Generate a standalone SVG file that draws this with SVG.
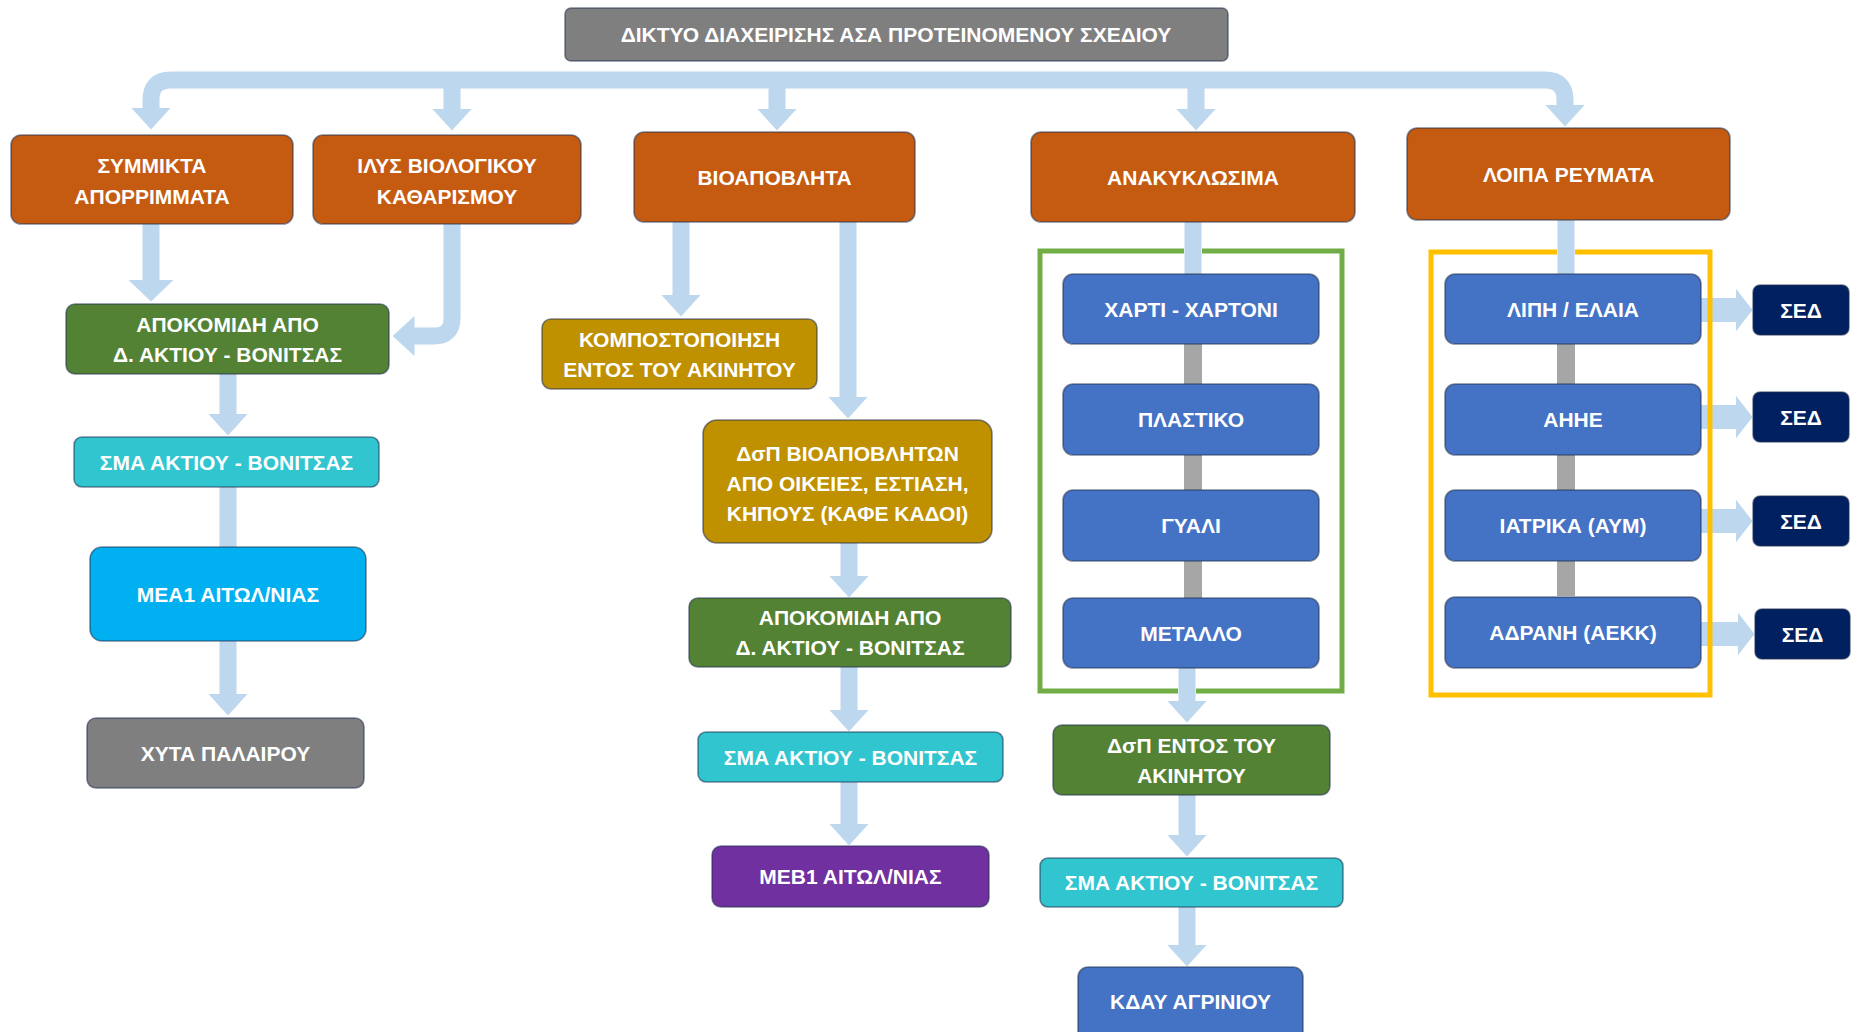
<svg xmlns="http://www.w3.org/2000/svg" width="1852" height="1032" viewBox="0 0 1852 1032">
<style>
.bg{fill:#ffffff}
.n{stroke:#1f2f4f;stroke-opacity:.55;stroke-width:1.6}
.or{fill:#c55a11}
.gr{fill:#548235}
.cy{fill:#31c5cf}
.sk{fill:#00b0f0}
.gy{fill:#7f7f7f}
.gd{fill:#bf9000}
.pu{fill:#7030a0}
.bl{fill:#4472c4}
.nv{fill:#002060}
.t{font-family:"Liberation Sans",Arial,sans-serif;font-weight:bold;font-size:21px;fill:#ffffff;text-anchor:middle}
.tt{font-size:21px}
.c{fill:none;stroke:#bdd7ee;stroke-width:17}
.cs{fill:none;stroke:#bdd7ee;stroke-width:24}
.gb{fill:none;stroke:#a6a6a6;stroke-width:18}
.fr{fill:none;stroke-width:5}
</style>
<defs>
<marker id="ah" markerUnits="userSpaceOnUse" markerWidth="22" markerHeight="40" viewBox="0 0 22 40" refX="0.5" refY="20" orient="auto"><path d="M0,0 L22,20 L0,40 z" fill="#bdd7ee"/></marker>
<marker id="ahw" markerUnits="userSpaceOnUse" markerWidth="22" markerHeight="46" viewBox="0 0 22 46" refX="0.5" refY="23" orient="auto"><path d="M0,0 L22,23 L0,46 z" fill="#bdd7ee"/></marker>
<marker id="ahs" markerUnits="userSpaceOnUse" markerWidth="17" markerHeight="44" viewBox="0 0 17 44" refX="0.5" refY="22" orient="auto"><path d="M0,0 L17,22 L0,44 z" fill="#bdd7ee"/></marker>
</defs>
<rect class="bg" x="0" y="0" width="1852" height="1032"/>

<g id="connectors">
<path class="c" d="M800,80 H171 Q151,80 151,100 V108" marker-end="url(#ah)"/>
<path class="c" d="M800,80 H1545 Q1565,80 1565,100 V105" marker-end="url(#ah)"/>
<path class="c" d="M452,80 V109" marker-end="url(#ah)"/>
<path class="c" d="M777,80 V109" marker-end="url(#ah)"/>
<path class="c" d="M1196,80 V109" marker-end="url(#ah)"/>
<path class="c" d="M151,224 V280" marker-end="url(#ahw)"/>
<path class="c" d="M452,224 V318 Q452,336 434,336 H414" marker-end="url(#ah)"/>
<path class="c" d="M228,374 V414" marker-end="url(#ah)"/>
<path class="c" d="M228,487 V547"/>
<path class="c" d="M228,641 V694" marker-end="url(#ah)"/>
<path class="c" d="M681,222 V295" marker-end="url(#ah)"/>
<path class="c" d="M848,222 V397" marker-end="url(#ah)"/>
<path class="c" d="M849,543 V576" marker-end="url(#ah)"/>
<path class="c" d="M849,667 V710" marker-end="url(#ah)"/>
<path class="c" d="M849,782 V824" marker-end="url(#ah)"/>
<path class="c" d="M1193,222 V274"/>
<path class="c" d="M1187,668 V701" marker-end="url(#ah)"/>
<path class="c" d="M1187,795 V835" marker-end="url(#ah)"/>
<path class="c" d="M1187,907 V945" marker-end="url(#ah)"/>
<path class="c" d="M1566,220 V274"/>
<path class="gb" d="M1193,344 V384 M1193,455 V490 M1193,561 V598"/>
<path class="gb" d="M1566,344 V384 M1566,455 V490 M1566,561 V596"/>
<path class="cs" d="M1701,310 H1736" marker-end="url(#ahs)"/>
<path class="cs" d="M1701,417 H1736" marker-end="url(#ahs)"/>
<path class="cs" d="M1701,521 H1736" marker-end="url(#ahs)"/>
<path class="cs" d="M1701,634 H1738" marker-end="url(#ahs)"/>
</g>

<g id="frames">
<path class="fr" stroke="#70ad47" d="M1184,251 H1040 V691 H1178 M1196,691 H1342 V251 H1202"/>
<path class="fr" stroke="#ffc000" d="M1557,252 H1431 V695 H1710 V252 H1575"/>
</g>

<g id="title"><rect class="n gy" x="565" y="8" width="663" height="53" rx="6"/><text class="t tt" x="896" y="42">ΔΙΚΤΥΟ ΔΙΑΧΕΙΡΙΣΗΣ ΑΣΑ ΠΡΟΤΕΙΝΟΜΕΝΟΥ ΣΧΕΔΙΟΥ</text></g>

<g id="symmikta"><rect class="n or" x="11" y="135" width="282" height="89" rx="10"/><text class="t" x="152" y="172.5">ΣΥΜΜΙΚΤΑ</text><text class="t" x="152" y="203.5">ΑΠΟΡΡΙΜΜΑΤΑ</text></g>
<g id="ilys"><rect class="n or" x="313" y="135" width="268" height="89" rx="10"/><text class="t" x="447" y="172.5">ΙΛΥΣ ΒΙΟΛΟΓΙΚΟΥ</text><text class="t" x="447" y="203.5">ΚΑΘΑΡΙΣΜΟΥ</text></g>
<g id="bioapovlita"><rect class="n or" x="634" y="132" width="281" height="90" rx="10"/><text class="t" x="774.5" y="184.5">ΒΙΟΑΠΟΒΛΗΤΑ</text></g>
<g id="anakyklosima"><rect class="n or" x="1031" y="132" width="324" height="90" rx="10"/><text class="t" x="1193" y="184.5">ΑΝΑΚΥΚΛΩΣΙΜΑ</text></g>
<g id="loipa"><rect class="n or" x="1407" y="128" width="323" height="92" rx="10"/><text class="t" x="1568.5" y="181.5">ΛΟΙΠΑ ΡΕΥΜΑΤΑ</text></g>

<g id="apokomidi1"><rect class="n gr" x="66" y="304" width="323" height="70" rx="9"/><text class="t" x="227.5" y="331.5">ΑΠΟΚΟΜΙΔΗ ΑΠΟ</text><text class="t" x="227.5" y="361.5">Δ. ΑΚΤΙΟΥ - ΒΟΝΙΤΣΑΣ</text></g>
<g id="sma1"><rect class="n cy" x="74" y="437" width="305" height="50" rx="8"/><text class="t" x="226.5" y="469.5">ΣΜΑ ΑΚΤΙΟΥ - ΒΟΝΙΤΣΑΣ</text></g>
<g id="mea1"><rect class="n sk" x="90" y="547" width="276" height="94" rx="12"/><text class="t" x="228" y="601.5">ΜΕΑ1 ΑΙΤΩΛ/ΝΙΑΣ</text></g>
<g id="xyta"><rect class="n gy" x="87" y="718" width="277" height="70" rx="9"/><text class="t" x="225.5" y="760.5">ΧΥΤΑ ΠΑΛΑΙΡΟΥ</text></g>

<g id="kompost"><rect class="n gd" x="542" y="319" width="275" height="70" rx="9"/><text class="t" x="679.5" y="346.5">ΚΟΜΠΟΣΤΟΠΟΙΗΣΗ</text><text class="t" x="679.5" y="376.5">ΕΝΤΟΣ ΤΟΥ ΑΚΙΝΗΤΟΥ</text></g>
<g id="dsp-bio"><rect class="n gd" x="703" y="420" width="289" height="123" rx="14"/><text class="t" x="847.5" y="460.5">ΔσΠ ΒΙΟΑΠΟΒΛΗΤΩΝ</text><text class="t" x="847.5" y="490.5">ΑΠΟ ΟΙΚΕΙΕΣ, ΕΣΤΙΑΣΗ,</text><text class="t" x="847.5" y="520.5">ΚΗΠΟΥΣ (ΚΑΦΕ ΚΑΔΟΙ)</text></g>
<g id="apokomidi2"><rect class="n gr" x="689" y="598" width="322" height="69" rx="9"/><text class="t" x="850" y="625">ΑΠΟΚΟΜΙΔΗ ΑΠΟ</text><text class="t" x="850" y="655">Δ. ΑΚΤΙΟΥ - ΒΟΝΙΤΣΑΣ</text></g>
<g id="sma2"><rect class="n cy" x="698" y="732" width="305" height="50" rx="8"/><text class="t" x="850.5" y="764.5">ΣΜΑ ΑΚΤΙΟΥ - ΒΟΝΙΤΣΑΣ</text></g>
<g id="meb1"><rect class="n pu" x="712" y="846" width="277" height="61" rx="9"/><text class="t" x="850.5" y="884">ΜΕΒ1 ΑΙΤΩΛ/ΝΙΑΣ</text></g>

<g id="xarti"><rect class="n bl" x="1063" y="274" width="256" height="70" rx="10"/><text class="t" x="1191" y="316.5">ΧΑΡΤΙ - ΧΑΡΤΟΝΙ</text></g>
<g id="plastiko"><rect class="n bl" x="1063" y="384" width="256" height="71" rx="10"/><text class="t" x="1191" y="427">ΠΛΑΣΤΙΚΟ</text></g>
<g id="gyali"><rect class="n bl" x="1063" y="490" width="256" height="71" rx="10"/><text class="t" x="1191" y="533">ΓΥΑΛΙ</text></g>
<g id="metallo"><rect class="n bl" x="1063" y="598" width="256" height="70" rx="10"/><text class="t" x="1191" y="640.5">ΜΕΤΑΛΛΟ</text></g>
<g id="dsp-entos"><rect class="n gr" x="1053" y="725" width="277" height="70" rx="9"/><text class="t" x="1191.5" y="752.5">ΔσΠ ΕΝΤΟΣ ΤΟΥ</text><text class="t" x="1191.5" y="782.5">ΑΚΙΝΗΤΟΥ</text></g>
<g id="sma3"><rect class="n cy" x="1040" y="858" width="303" height="49" rx="8"/><text class="t" x="1191.5" y="890">ΣΜΑ ΑΚΤΙΟΥ - ΒΟΝΙΤΣΑΣ</text></g>
<g id="kday"><rect class="n bl" x="1078" y="967" width="225" height="80" rx="10"/><text class="t" x="1190.5" y="1009">ΚΔΑΥ ΑΓΡΙΝΙΟΥ</text></g>

<g id="lipi"><rect class="n bl" x="1445" y="274" width="256" height="70" rx="10"/><text class="t" x="1573" y="316.5">ΛΙΠΗ / ΕΛΑΙΑ</text></g>
<g id="aeee"><rect class="n bl" x="1445" y="384" width="256" height="71" rx="10"/><text class="t" x="1573" y="427">ΑΗΗΕ</text></g>
<g id="iatrika"><rect class="n bl" x="1445" y="490" width="256" height="71" rx="10"/><text class="t" x="1573" y="533">ΙΑΤΡΙΚΑ (ΑΥΜ)</text></g>
<g id="adrani"><rect class="n bl" x="1445" y="597" width="256" height="71" rx="10"/><text class="t" x="1573" y="640">ΑΔΡΑΝΗ (ΑΕΚΚ)</text></g>

<g id="sed1"><rect class="n nv" x="1753" y="285" width="96" height="50" rx="7"/><text class="t" x="1801" y="317.5">ΣΕΔ</text></g>
<g id="sed2"><rect class="n nv" x="1753" y="392" width="96" height="50" rx="7"/><text class="t" x="1801" y="424.5">ΣΕΔ</text></g>
<g id="sed3"><rect class="n nv" x="1753" y="496" width="96" height="50" rx="7"/><text class="t" x="1801" y="528.5">ΣΕΔ</text></g>
<g id="sed4"><rect class="n nv" x="1755" y="609" width="95" height="50" rx="7"/><text class="t" x="1802.5" y="641.5">ΣΕΔ</text></g>
</svg>
